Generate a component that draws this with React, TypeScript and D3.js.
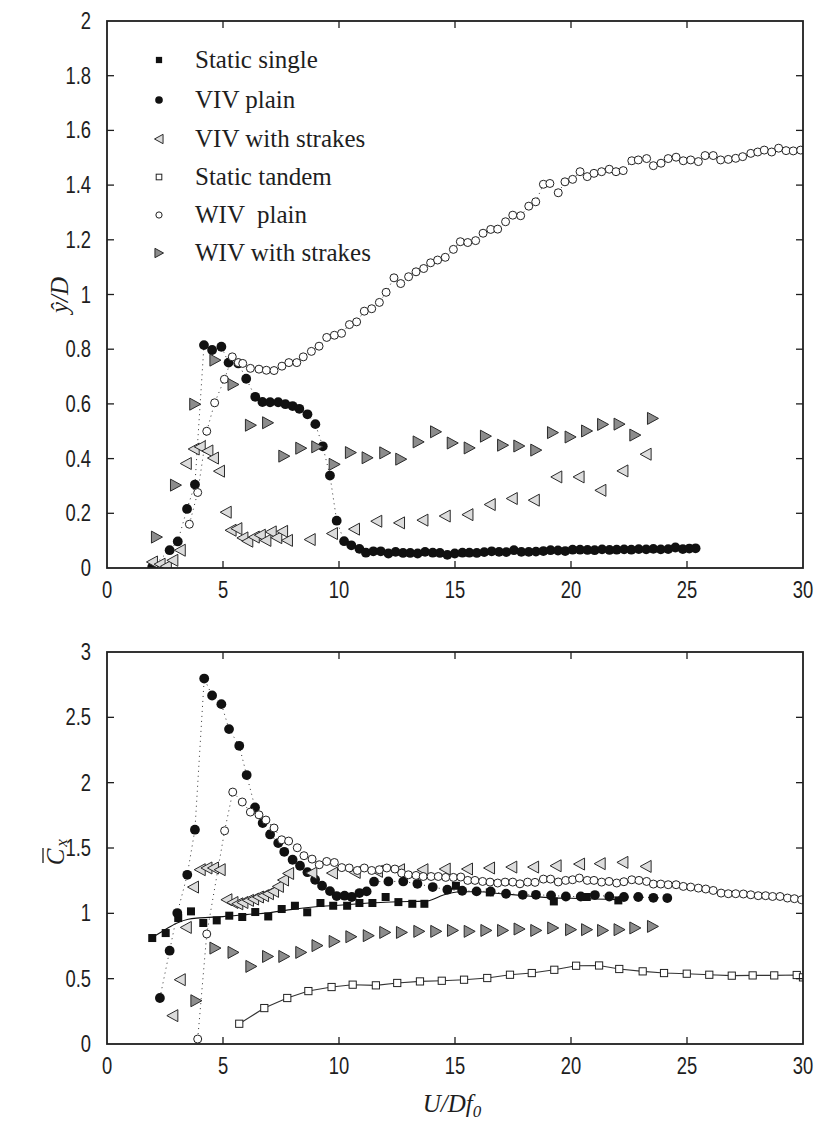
import React from "react";
import * as d3 from "d3";

// ---------------- DATA ----------------
const xTicks = [0, 5, 10, 15, 20, 25, 30];
const yTicksTop = [0, 0.2, 0.4, 0.6, 0.8, 1, 1.2, 1.4, 1.6, 1.8, 2];
const yTicksBottom = [0, 0.5, 1, 1.5, 2, 2.5, 3];

const legendLabels = ["Static single", "VIV plain", "VIV with strakes", "Static tandem", "WIV  plain", "WIV with strakes"];
const legendMarkers = ["fsq", "fci", "ltri", "osq", "oci", "rtri"];

// top panel (amplitude y/D)
const vivPlainTop: [number, number][] = [
  [1.95, 0.004], [2.7, 0.065], [3.05, 0.097], [3.45, 0.216], [3.79, 0.305], [4.18, 0.815], [4.53, 0.797], [4.93, 0.809],
  [5.24, 0.751], [5.66, 0.748], [6.0, 0.692], [6.39, 0.626], [6.7, 0.607], [7.03, 0.606], [7.38, 0.606], [7.69, 0.599],
  [8.0, 0.592], [8.29, 0.582], [8.64, 0.562], [8.98, 0.526], [9.3, 0.445], [9.61, 0.338], [9.9, 0.173], [10.22, 0.098],
  [10.53, 0.083], [10.88, 0.07], [11.16, 0.056], [11.48, 0.061], [11.8, 0.061], [12.13, 0.053], [12.44, 0.059], [12.76, 0.055],
  [13.07, 0.055], [13.39, 0.053], [13.71, 0.059], [14.04, 0.056], [14.35, 0.055], [14.67, 0.048], [14.99, 0.053], [15.32, 0.056],
  [15.62, 0.056], [15.94, 0.055], [16.26, 0.058], [16.58, 0.061], [16.9, 0.059], [17.21, 0.058], [17.54, 0.065], [17.86, 0.059],
  [18.18, 0.059], [18.49, 0.06], [18.81, 0.062], [19.12, 0.065], [19.44, 0.064], [19.75, 0.062], [20.07, 0.067], [20.39, 0.067],
  [20.71, 0.066], [21.02, 0.065], [21.34, 0.068], [21.66, 0.066], [21.97, 0.067], [22.29, 0.068], [22.6, 0.067], [22.92, 0.069],
  [23.24, 0.068], [23.55, 0.07], [23.87, 0.068], [24.19, 0.069], [24.5, 0.075], [24.82, 0.069], [25.1, 0.071], [25.37, 0.072],
];
const wivPlainTop: [number, number][] = [
  [3.55, 0.16], [3.91, 0.276], [4.3, 0.5], [4.64, 0.604], [5.06, 0.69], [5.4, 0.772], [5.66, 0.751], [5.85, 0.748],
  [6.18, 0.73], [6.55, 0.727], [6.87, 0.723], [7.2, 0.722], [7.54, 0.738], [7.84, 0.751], [8.18, 0.751], [8.46, 0.772],
  [8.81, 0.792], [9.14, 0.811], [9.47, 0.843], [9.8, 0.851], [10.11, 0.858], [10.45, 0.89], [10.76, 0.9], [11.09, 0.939],
  [11.41, 0.948], [11.74, 0.971], [12.03, 1.008], [12.37, 1.061], [12.66, 1.04], [13.0, 1.065], [13.32, 1.083], [13.65, 1.095],
  [13.95, 1.116], [14.25, 1.126], [14.58, 1.136], [14.93, 1.165], [15.23, 1.193], [15.55, 1.19], [15.89, 1.197], [16.21, 1.224],
  [16.54, 1.238], [16.84, 1.239], [17.18, 1.266], [17.49, 1.29], [17.83, 1.288], [18.18, 1.323], [18.48, 1.339], [18.81, 1.403],
  [19.09, 1.406], [19.45, 1.372], [19.74, 1.412], [20.07, 1.421], [20.39, 1.449], [20.7, 1.431], [20.99, 1.443], [21.32, 1.449],
  [21.65, 1.458], [21.94, 1.449], [22.25, 1.453], [22.62, 1.489], [22.9, 1.492], [23.26, 1.497], [23.55, 1.471], [23.88, 1.48],
  [24.19, 1.497], [24.53, 1.502], [24.84, 1.489], [25.16, 1.492], [25.49, 1.486], [25.78, 1.508], [26.13, 1.508], [26.45, 1.492],
  [26.78, 1.494], [27.1, 1.498], [27.4, 1.504], [27.75, 1.516], [28.05, 1.521], [28.33, 1.528], [28.65, 1.521], [28.95, 1.535],
  [29.27, 1.526], [29.58, 1.525], [29.9, 1.528],
];
const vivStrakesTop: [number, number][] = [
  [1.95, 0.022], [2.28, 0.014], [2.55, 0.006], [2.83, 0.028], [3.15, 0.065], [3.41, 0.382], [3.75, 0.435], [4.01, 0.443],
  [4.34, 0.428], [4.58, 0.402], [4.84, 0.354], [5.13, 0.204], [5.34, 0.138], [5.59, 0.144], [5.85, 0.11], [6.06, 0.098],
  [6.34, 0.113], [6.6, 0.12], [6.84, 0.101], [7.07, 0.132], [7.31, 0.111], [7.56, 0.134], [7.77, 0.101], [8.75, 0.104],
  [9.71, 0.126], [10.66, 0.142], [11.62, 0.171], [12.6, 0.165], [13.61, 0.175], [14.57, 0.19], [15.55, 0.195], [16.51, 0.232],
  [17.46, 0.254], [18.41, 0.248], [19.38, 0.333], [20.34, 0.333], [21.28, 0.284], [22.23, 0.355], [23.23, 0.416],
];
const wivStrakesTop: [number, number][] = [
  [2.14, 0.113], [2.96, 0.303], [3.79, 0.599], [4.66, 0.76], [5.44, 0.671], [6.19, 0.522], [6.93, 0.531], [7.63, 0.409],
  [8.36, 0.438], [9.05, 0.443], [9.8, 0.379], [10.5, 0.422], [11.22, 0.403], [11.98, 0.421], [12.67, 0.398], [13.42, 0.461],
  [14.17, 0.498], [14.89, 0.457], [15.62, 0.439], [16.32, 0.482], [17.06, 0.449], [17.76, 0.446], [18.49, 0.431], [19.21, 0.495],
  [19.97, 0.479], [20.68, 0.501], [21.37, 0.525], [22.08, 0.526], [22.76, 0.486], [23.52, 0.547],
];

// bottom panel (mean drag coefficient)
const staticSingle: [number, number][] = [
  [1.95, 0.811], [2.53, 0.849], [3.07, 0.964], [3.62, 1.015], [4.15, 0.926], [4.73, 0.946], [5.27, 0.982], [5.83, 0.972],
  [6.39, 1.01], [6.95, 0.976], [7.53, 1.033], [8.1, 1.058], [8.63, 1.008], [9.2, 1.079], [9.75, 1.058], [10.35, 1.058],
  [10.88, 1.079], [11.44, 1.079], [12.01, 1.125], [12.56, 1.086], [13.16, 1.073], [13.68, 1.073], [15.04, 1.211], [16.5, 1.16],
  [19.26, 1.091], [20.68, 1.125], [22.04, 1.099],
];
const staticSingleFit: [number, number][] = [
  [1.95, 0.815], [2.5, 0.875], [3.0, 0.925], [3.5, 0.955], [4.0, 0.965], [5.0, 0.975], [6.0, 0.99], [7.0, 1.005],
  [8.0, 1.03], [9.0, 1.05], [10.0, 1.062], [11.0, 1.075], [12.0, 1.085], [13.0, 1.09], [13.8, 1.095], [14.5, 1.14],
  [15.2, 1.165], [16.0, 1.165], [17.0, 1.15], [18.0, 1.135], [19.0, 1.12], [20.0, 1.115], [21.0, 1.11], [22.0, 1.105],
];
const vivPlainBottom: [number, number][] = [
  [2.28, 0.352], [2.7, 0.714], [3.03, 1.002], [3.46, 1.295], [3.79, 1.64], [4.19, 2.797], [4.53, 2.667], [4.93, 2.601],
  [5.26, 2.41], [5.7, 2.282], [6.02, 2.058], [6.38, 1.81], [6.71, 1.691], [7.03, 1.604], [7.38, 1.538], [7.64, 1.471],
  [8.0, 1.41], [8.32, 1.364], [8.64, 1.315], [8.97, 1.257], [9.27, 1.211], [9.61, 1.17], [9.9, 1.132], [10.24, 1.135],
  [10.55, 1.125], [10.88, 1.155], [11.19, 1.168], [11.51, 1.242], [12.13, 1.244], [12.77, 1.244], [13.38, 1.226], [14.04, 1.201],
  [14.67, 1.181], [15.31, 1.173], [15.93, 1.168], [16.54, 1.168], [17.2, 1.15], [17.92, 1.142], [18.49, 1.142], [19.14, 1.137],
  [19.78, 1.129], [20.42, 1.129], [21.03, 1.14], [21.65, 1.129], [22.28, 1.125], [22.9, 1.125], [23.55, 1.119], [24.15, 1.117],
];
const vivStrakesBottom: [number, number][] = [
  [2.83, 0.217], [3.15, 0.492], [3.41, 0.892], [3.72, 1.201], [4.01, 1.334], [4.3, 1.347], [4.58, 1.347], [4.87, 1.334],
  [5.16, 1.104], [5.42, 1.083], [5.63, 1.073], [5.85, 1.083], [6.09, 1.099], [6.31, 1.109], [6.52, 1.125], [6.74, 1.135],
  [6.95, 1.15], [7.17, 1.168], [7.38, 1.206], [7.6, 1.255], [7.82, 1.305], [8.82, 1.308], [9.71, 1.308], [10.69, 1.313],
  [11.65, 1.321], [12.6, 1.334], [13.61, 1.334], [14.57, 1.339], [15.53, 1.339], [16.48, 1.347], [17.44, 1.354], [18.38, 1.354],
  [19.35, 1.364], [20.36, 1.377], [21.25, 1.38], [22.23, 1.39], [23.23, 1.359],
];
const staticTandem: [number, number][] = [
  [5.7, 0.155], [6.78, 0.275], [7.77, 0.352], [8.68, 0.405], [9.68, 0.436], [10.59, 0.454], [11.59, 0.449], [12.51, 0.467],
  [13.49, 0.479], [14.43, 0.484], [15.39, 0.492], [16.39, 0.505], [17.37, 0.53], [18.31, 0.543], [19.28, 0.568], [20.22, 0.599],
  [21.21, 0.601], [22.08, 0.574], [23.09, 0.556], [24.01, 0.543], [24.99, 0.538], [25.96, 0.53], [26.93, 0.523], [27.83, 0.525],
  [28.76, 0.525], [29.73, 0.528], [30.0, 0.51],
];
const wivPlainBottom: [number, number][] = [
  [3.91, 0.038], [4.3, 0.842], [5.07, 1.632], [5.42, 1.928], [5.83, 1.852], [6.18, 1.775], [6.55, 1.754], [6.85, 1.714],
  [7.2, 1.653], [7.53, 1.563], [7.83, 1.553], [8.2, 1.502], [8.49, 1.441], [8.84, 1.415], [9.15, 1.372], [9.47, 1.397],
  [9.8, 1.389], [10.12, 1.35], [10.44, 1.347], [10.79, 1.328], [11.09, 1.347], [11.41, 1.328], [11.74, 1.334], [12.06, 1.347],
  [12.41, 1.339], [12.7, 1.308], [12.99, 1.295], [13.32, 1.29], [13.63, 1.282], [13.97, 1.282], [14.28, 1.282], [14.6, 1.275],
  [14.93, 1.275], [15.25, 1.278], [15.55, 1.252], [15.86, 1.252], [16.19, 1.244], [16.51, 1.239], [16.84, 1.232], [17.16, 1.239],
  [17.49, 1.239], [17.8, 1.226], [18.13, 1.239], [18.45, 1.237], [18.81, 1.262], [19.12, 1.262], [19.45, 1.24], [19.77, 1.252],
  [20.07, 1.257], [20.36, 1.27], [20.7, 1.252], [20.99, 1.252], [21.32, 1.239], [21.64, 1.244], [21.97, 1.232], [22.28, 1.242],
  [22.62, 1.257], [22.93, 1.252], [23.26, 1.244], [23.55, 1.224], [23.87, 1.224], [24.19, 1.219], [24.53, 1.219], [24.84, 1.206],
  [25.16, 1.201], [25.49, 1.193], [25.81, 1.186], [26.13, 1.175], [26.47, 1.155], [26.78, 1.15], [27.1, 1.15], [27.43, 1.148],
  [27.75, 1.142], [28.07, 1.135], [28.39, 1.135], [28.69, 1.129], [29.01, 1.129], [29.33, 1.117], [29.63, 1.112], [29.94, 1.104],
];
const wivStrakesBottom: [number, number][] = [
  [3.84, 0.331], [4.66, 0.734], [5.44, 0.701], [6.21, 0.594], [6.93, 0.67], [7.63, 0.67], [8.36, 0.701], [9.06, 0.753],
  [9.8, 0.785], [10.52, 0.821], [11.27, 0.829], [11.98, 0.854], [12.7, 0.854], [13.45, 0.862], [14.18, 0.862], [14.9, 0.869],
  [15.62, 0.862], [16.34, 0.869], [17.06, 0.869], [17.77, 0.88], [18.49, 0.869], [19.22, 0.888], [19.99, 0.875], [20.68, 0.875],
  [21.37, 0.869], [22.08, 0.875], [22.76, 0.888], [23.52, 0.9],
];

// ---------------- STYLE / LAYOUT ----------------
const W = 818;
const H = 1133;
const LEFT = 107;
const RIGHT = 803;
const TOP1 = 21;
const BOT1 = 568;
const TOP2 = 652;
const BOT2 = 1044;
const sans = "'Liberation Sans', Arial, Helvetica, sans-serif";
const serif = "'Liberation Serif', 'Times New Roman', serif";
const INK = "#1e1e1e";
const TICK_FS = 23;
const TICK_SX = 0.8;

function Marker({ t, cx, cy, s = 1 }: { t: string; cx: number; cy: number; s?: number }) {
  switch (t) {
    case "fsq":
      return <rect x={cx - 4 * s} y={cy - 4 * s} width={8 * s} height={8 * s} fill="#111" />;
    case "fci":
      return <circle cx={cx} cy={cy} r={4.9 * s} fill="#111" />;
    case "ltri":
      return (
        <polygon
          points={`${cx - 5.8 * s},${cy} ${cx + 5.2 * s},${cy - 6 * s} ${cx + 5.2 * s},${cy + 6 * s}`}
          fill="#dcdcdc"
          stroke="#2a2a2a"
          strokeWidth={1}
        />
      );
    case "osq":
      return <rect x={cx - 3.6 * s} y={cy - 3.6 * s} width={7.2 * s} height={7.2 * s} fill="#fff" stroke="#222" strokeWidth={1} />;
    case "oci":
      return <circle cx={cx} cy={cy} r={4 * s} fill="#fff" stroke="#222" strokeWidth={1} />;
    case "rtri":
      return (
        <polygon
          points={`${cx + 5.8 * s},${cy} ${cx - 5.2 * s},${cy - 6 * s} ${cx - 5.2 * s},${cy + 6 * s}`}
          fill="#8c8c8c"
          stroke="#2a2a2a"
          strokeWidth={1}
        />
      );
    default:
      return null;
  }
}

function TickLabel({ x, y, anchor, children }: { x: number; y: number; anchor: string; children: React.ReactNode }) {
  return (
    <text
      transform={`translate(${x},${y}) scale(${TICK_SX},1)`}
      textAnchor={anchor}
      fontFamily={sans}
      fontSize={TICK_FS}
      fill={INK}
    >
      {children}
    </text>
  );
}

type Series = { data: [number, number][]; m: string; dotted?: boolean; solid?: boolean; curve?: [number, number][] };

function Panel({
  id, top, bottom, yMax, yTicks, series, ylabel,
}: {
  id: string; top: number; bottom: number; yMax: number; yTicks: number[]; series: Series[]; ylabel: React.ReactNode;
}) {
  const x = d3.scaleLinear().domain([0, 30]).range([LEFT, RIGHT]);
  const y = d3.scaleLinear().domain([0, yMax]).range([bottom, top]);
  const line = d3.line<[number, number]>().x((d) => x(d[0])).y((d) => y(d[1]));
  const smooth = d3.line<[number, number]>().x((d) => x(d[0])).y((d) => y(d[1])).curve(d3.curveMonotoneX);
  const tl = 7;
  return (
    <g>
      <defs>
        <clipPath id={`clip-${id}`}>
          <rect x={LEFT} y={top} width={RIGHT - LEFT} height={bottom - top} />
        </clipPath>
      </defs>
      <g clipPath={`url(#clip-${id})`}>
        {series.map((s, i) => (
          <g key={i}>
            {s.curve && <path d={smooth(s.curve) || ""} fill="none" stroke="#111" strokeWidth={1.1} />}
            {s.solid && <path d={line(s.data) || ""} fill="none" stroke="#333" strokeWidth={1.1} />}
            {s.dotted && <path d={line(s.data) || ""} fill="none" stroke="#333" strokeWidth={1} strokeDasharray="1 4" />}
          </g>
        ))}
        {series.map((s, i) => (
          <g key={"m" + i}>
            {s.data.map((d, j) => (
              <Marker key={j} t={s.m} cx={x(d[0])} cy={y(d[1])} />
            ))}
          </g>
        ))}
      </g>
      <rect x={LEFT} y={top} width={RIGHT - LEFT} height={bottom - top} fill="none" stroke={INK} strokeWidth={1.8} />
      {xTicks.map((t) => (
        <g key={"x" + t}>
          {t > 0 && t < 30 && (
            <>
              <line x1={x(t)} x2={x(t)} y1={bottom} y2={bottom - tl} stroke={INK} strokeWidth={1.3} />
              <line x1={x(t)} x2={x(t)} y1={top} y2={top + tl} stroke={INK} strokeWidth={1.3} />
            </>
          )}
          <TickLabel x={x(t)} y={bottom + 30} anchor="middle">{t}</TickLabel>
        </g>
      ))}
      {yTicks.map((t) => (
        <g key={"y" + t}>
          {t > 0 && t < yMax && (
            <>
              <line x1={LEFT} x2={LEFT + tl} y1={y(t)} y2={y(t)} stroke={INK} strokeWidth={1.3} />
              <line x1={RIGHT} x2={RIGHT - tl} y1={y(t)} y2={y(t)} stroke={INK} strokeWidth={1.3} />
            </>
          )}
          <TickLabel x={LEFT - 16} y={y(t) + 8} anchor="end">{String(t)}</TickLabel>
        </g>
      ))}
      {ylabel}
    </g>
  );
}

export default function App() {
  const topSeries: Series[] = [
    { data: vivPlainTop, m: "fci", dotted: true },
    { data: vivStrakesTop, m: "ltri" },
    { data: wivPlainTop, m: "oci", dotted: true },
    { data: wivStrakesTop, m: "rtri" },
  ];
  const bottomSeries: Series[] = [
    { data: staticSingle, m: "fsq", curve: staticSingleFit },
    { data: vivPlainBottom, m: "fci", dotted: true },
    { data: vivStrakesBottom, m: "ltri" },
    { data: staticTandem, m: "osq", solid: true },
    { data: wivPlainBottom, m: "oci", dotted: true },
    { data: wivStrakesBottom, m: "rtri" },
  ];
  const legendY = [60, 100, 139, 177, 215, 253];

  return (
    <div style={{ position: "absolute", left: 0, top: 0 }}>
      <svg width={W} height={H} viewBox={`0 0 ${W} ${H}`} style={{ display: "block", background: "#fff" }}>
        <rect width={W} height={H} fill="#fff" />
        <Panel
          id="top"
          top={TOP1}
          bottom={BOT1}
          yMax={2}
          yTicks={yTicksTop}
          series={topSeries}
          ylabel={
            <text transform={`translate(68,295) rotate(-90)`} textAnchor="middle" fontFamily={serif} fontStyle="italic" fontSize={25} fill={INK}>
              ŷ/D
            </text>
          }
        />
        <Panel
          id="bot"
          top={TOP2}
          bottom={BOT2}
          yMax={3}
          yTicks={yTicksBottom}
          series={bottomSeries}
          ylabel={
            <g transform="translate(64,851) rotate(-90)">
              <text x={-6} y={0} textAnchor="middle" fontFamily={serif} fontStyle="italic" fontSize={25} fill={INK}>
                C
              </text>
              <text x={8} y={3} textAnchor="middle" fontFamily={serif} fontStyle="italic" fontSize={17} fill={INK}>
                x
              </text>
              <line x1={-12} x2={3} y1={-21} y2={-21} stroke={INK} strokeWidth={1.3} />
            </g>
          }
        />
        {legendLabels.map((lab, i) => (
          <g key={lab}>
            <Marker t={legendMarkers[i]} cx={159} cy={legendY[i]} s={0.78} />
            <text x={195} y={legendY[i] + 8} fontFamily={serif} fontSize={25} fill={INK} style={{ whiteSpace: "pre" }}>
              {lab}
            </text>
          </g>
        ))}
        <text x={452} y={1112} textAnchor="middle" fontFamily={serif} fontStyle="italic" fontSize={25} fill={INK}>
          U/Df
          <tspan fontSize={17} dy={5}>0</tspan>
        </text>
      </svg>
    </div>
  );
}
